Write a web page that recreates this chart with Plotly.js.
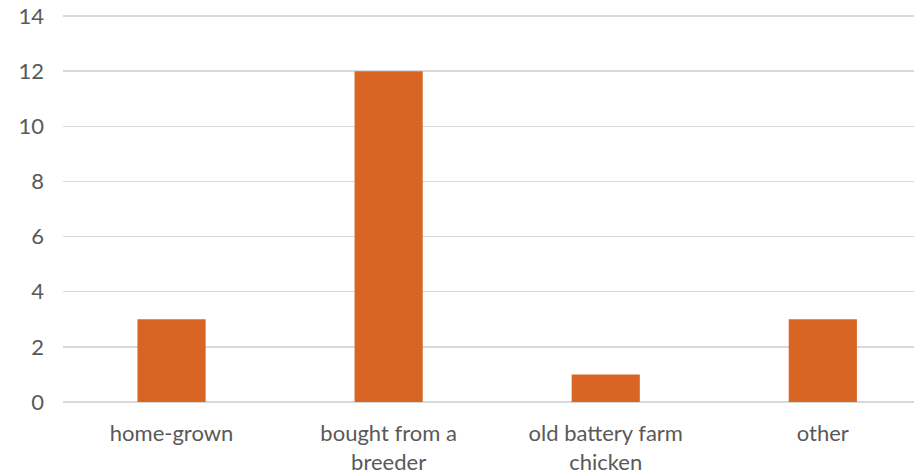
<!DOCTYPE html>
<html>
<head>
<meta charset="utf-8">
<script src="https://cdn.plot.ly/plotly-3.0.1.min.js"></script>
<style>
  html, body { margin: 0; padding: 0; background: #ffffff; }
  #chart { width: 914px; height: 475px; }
</style>
</head>
<body>
<div id="chart"></div>
<script>
// Where the chickens came from
const categories = ['home-grown', 'bought from a<br>breeder', 'old battery farm<br>chicken', 'other'];
const counts = [3, 12, 1, 3];
const yTicks = [0, 2, 4, 6, 8, 10, 12, 14];

const barColor = '#D96524';
const textColor = '#595959';
const gridColor = '#D9D9D9';
const fontFamily = 'Lato, "Open Sans", sans-serif';

const trace = {
  type: 'bar',
  x: categories,
  y: counts,
  marker: { color: barColor, line: { width: 0 } },
  hoverinfo: 'x+y'
};

const layout = {
  width: 914,
  height: 475,
  margin: { l: 63, r: 0, t: 15, b: 73 },
  paper_bgcolor: '#ffffff',
  plot_bgcolor: '#ffffff',
  showlegend: false,
  bargap: 0.686,
  font: { family: fontFamily, size: 22, color: textColor },
  xaxis: {
    type: 'category',
    range: [-0.5, 3.42],
    showgrid: false,
    zeroline: false,
    showline: false,
    ticks: '',
    ticklabelstandoff: 16,
    tickfont: { family: fontFamily, size: 22, color: textColor }
  },
  yaxis: {
    range: [0, 14.04],
    tickvals: yTicks,
    ticktext: yTicks.map(String),
    showgrid: true,
    gridcolor: gridColor,
    gridwidth: 1.5,
    zeroline: true,
    zerolinecolor: gridColor,
    zerolinewidth: 1.5,
    showline: false,
    ticks: '',
    ticklabelstandoff: 18,
    tickfont: { family: fontFamily, size: 22, color: textColor }
  }
};

Plotly.newPlot('chart', [trace], layout, { displayModeBar: false, staticPlot: true });
</script>
</body>
</html>
